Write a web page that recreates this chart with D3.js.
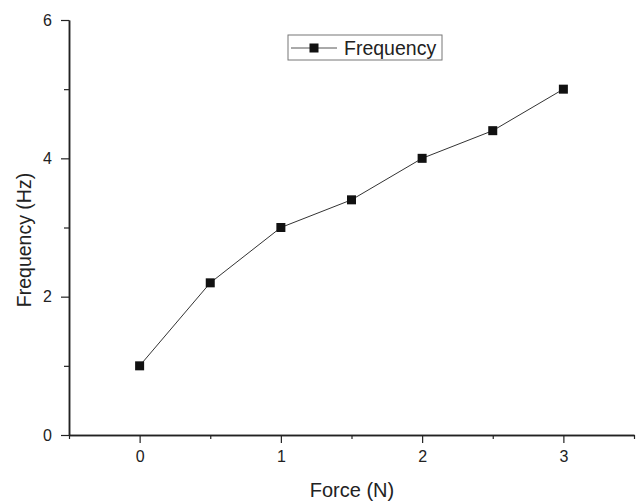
<!DOCTYPE html>
<html><head><meta charset="utf-8">
<script src="https://cdn.jsdelivr.net/npm/d3@7"></script>
<style>body{margin:0;background:#fff}svg{display:block}</style>
</head><body>
<svg id="c" width="638" height="503"></svg>
<script>
const forceN = [0, 0.5, 1, 1.5, 2, 2.5, 3];
const frequencyHz = [1, 2.2, 3, 3.4, 4, 4.4, 5];
const xTicks = [0, 1, 2, 3];
const xMinor = [-0.5, 0.5, 1.5, 2.5, 3.5];
const yTicks = [0, 2, 4, 6];
const yMinor = [1, 3, 5];
const seriesName = "Frequency";

const svg = d3.select("#c");
const x = d3.scaleLinear().domain([-0.5, 3.5]).range([69, 634]);
const y = d3.scaleLinear().domain([0, 6]).range([435, 20]);
const font = "Arial, 'Liberation Sans', sans-serif";

// X axis
const gx = svg.append("g").attr("transform", "translate(0,435)");
gx.call(d3.axisBottom(x).tickValues(xTicks).tickFormat(d3.format("d")).tickSize(8).tickSizeOuter(0));
gx.append("g").call(d3.axisBottom(x).tickValues(xMinor).tickFormat("").tickSize(4).tickSizeOuter(0));
gx.selectAll(".domain").attr("stroke", "#222").attr("stroke-width", 1.5);
gx.selectAll(".tick line").attr("stroke", "#222").attr("stroke-width", 1.2);
gx.selectAll(".tick text").attr("font-family", font).attr("font-size", 16).attr("fill", "#222").attr("dy", "1em");

// Y axis
const gy = svg.append("g").attr("transform", "translate(69,0)");
gy.call(d3.axisLeft(y).tickValues(yTicks).tickFormat(d3.format("d")).tickSize(8).tickSizeOuter(0));
gy.append("g").call(d3.axisLeft(y).tickValues(yMinor).tickFormat("").tickSize(5).tickSizeOuter(0));
gy.selectAll(".domain").attr("stroke", "#222").attr("stroke-width", 1.5);
gy.selectAll(".tick line").attr("stroke", "#222").attr("stroke-width", 1.2);
gy.selectAll(".tick text").attr("font-family", font).attr("font-size", 16).attr("fill", "#222").attr("dx", "-6px");

// Titles
svg.append("text").attr("x", 352).attr("y", 497).attr("text-anchor", "middle")
  .attr("font-family", font).attr("font-size", 20).attr("fill", "#222").text("Force (N)");
svg.append("text").attr("transform", "translate(31,240) rotate(-90)").attr("text-anchor", "middle")
  .attr("font-family", font).attr("font-size", 19.5).attr("fill", "#222").text("Frequency (Hz)");

// Line
const pts = forceN.map((f, i) => [f, frequencyHz[i]]);
svg.append("path").datum(pts)
  .attr("d", d3.line().x(d => x(d[0])).y(d => y(d[1])))
  .attr("fill", "none").attr("stroke", "#333").attr("stroke-width", 1);
const ms = 9;
svg.selectAll("rect.pt").data(pts).join("rect").attr("class", "pt")
  .attr("x", d => x(d[0]) - ms / 2).attr("y", d => y(d[1]) - ms / 2)
  .attr("width", ms).attr("height", ms).attr("fill", "#111");

// Legend
const lg = svg.append("g");
lg.append("rect").attr("x", 288).attr("y", 35).attr("width", 154).attr("height", 25)
  .attr("fill", "#fff").attr("stroke", "#777").attr("stroke-width", 1);
lg.append("line").attr("x1", 291).attr("x2", 337).attr("y1", 48).attr("y2", 48)
  .attr("stroke", "#555").attr("stroke-width", 1);
lg.append("rect").attr("x", 314 - ms / 2).attr("y", 48 - ms / 2).attr("width", ms).attr("height", ms).attr("fill", "#111");
lg.append("text").attr("x", 344).attr("y", 55).attr("font-family", font).attr("font-size", 19.5)
  .attr("fill", "#222").text(seriesName);
</script>
</body></html>
